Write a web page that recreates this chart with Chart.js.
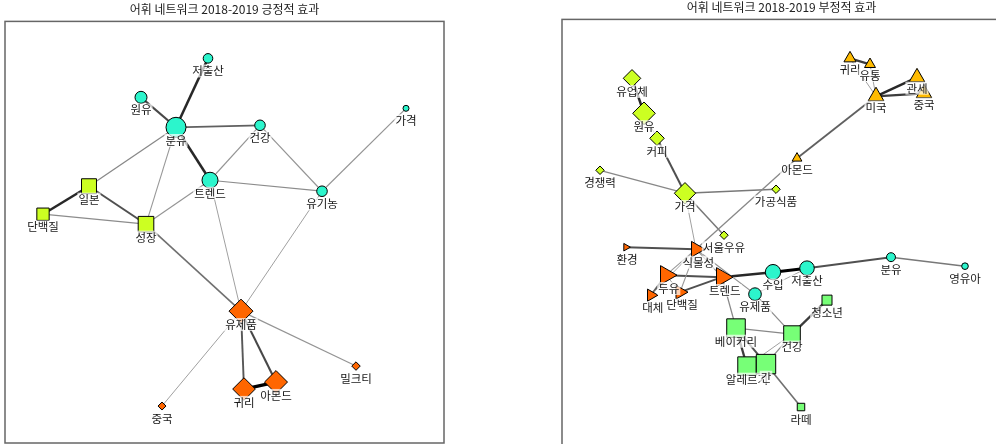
<!DOCTYPE html>
<html lang="ko">
<head>
<meta charset="utf-8">
<script src="https://cdn.jsdelivr.net/npm/chart.js@4/dist/chart.umd.min.js"></script>
<style>
html, body { margin: 0; padding: 0; background: #fff; }
#wrap { position: relative; width: 996px; height: 444px; overflow: hidden; background: #fff; }
#posChart { position: absolute; left: 0; top: 0; }
#negChart { position: absolute; left: 555px; top: 0; }
</style>
</head>
<body>
<div id="wrap">
  <canvas id="posChart" width="450" height="444"></canvas>
  <canvas id="negChart" width="452" height="450"></canvas>
</div>
<script>
// ---- 긍정적 효과: 단어 노드 (레이아웃 좌표, 빈도, 군집) ----
const posTitle = '어휘 네트워크 2018-2019 긍정적 효과';
const posWords   = ['저출산','원유','분유','건강','가격','트렌드','유기농','일본','단백질','성장','유제품','귀리','아몬드','밀크티','중국'];
const posX       = [203, 136, 171, 255, 401, 205, 317,  84,  38, 141, 236, 239, 271, 351, 157];
const posY       = [ 37,  76, 106, 104,  87, 159, 170, 165, 193, 203, 290, 368, 361, 345, 385];
const posFreq    = [ 23,  36, 100,  28,   9,  64,  28,  56,  38,  61, 144, 128, 132,  18,  16];
const posCluster = [  0,   0,   0,   0,   0,   0,   0,   1,   1,   1,   2,   2,   2,   2,   2];

// 긍정적 효과: 공기어 연결 (가중치)
const posEdgeFrom   = ['저출산','원유','분유','분유','분유','분유','건강','건강','트렌드','트렌드','트렌드','유기농','유기농','일본','일본','단백질','성장','유제품','유제품','귀리','유제품','유제품'];
const posEdgeTo     = ['분유','분유','건강','트렌드','일본','성장','트렌드','유기농','유기농','성장','유제품','가격','유제품','단백질','성장','성장','유제품','귀리','아몬드','아몬드','밀크티','중국'];
const posEdgeWeight = [4, 3.2, 2.6, 4, 1.6, 1.2, 1.3, 1.3, 1.5, 1.3, 1, 1.3, 1, 4, 3, 1.5, 2.2, 2.8, 3.2, 5.5, 1.3, 1];

// ---- 부정적 효과: 단어 노드 ----
const negTitle = '어휘 네트워크 2018-2019 부정적 효과';
const negWords   = ['귀리','유통','관세','중국','미국','아몬드','유업체','원유','커피','경쟁력','가격','가공식품','서울우유','식물성','환경','두유','트렌드','단백질','대체','수입','저출산','분유','영유아','유제품','청소년','베이커리','건강','알레르기','간','라떼'];
const negX       = [288, 308, 355, 362, 314, 235,  70,  82,  95,  38, 123, 214, 162, 134,  64, 104, 160, 118,  89, 211, 245, 329, 403, 193, 265, 174, 230, 185, 204, 239];
const negY       = [ 39,  45,  58,  74,  77, 139,  59,  94, 119, 151, 174, 170, 216, 230, 228, 256, 258, 273, 276, 253, 249, 238, 247, 275, 281, 309, 315, 347, 345, 388];
const negFreq    = [ 49,  40,  81,  81,  83,  32,  77, 128,  53,  18, 114,  18,  18,  81,  19, 121, 121,  64,  49,  59,  53,  20,  11,  40,  25,  86,  69,  85,  94,  14];
const negCluster = [  0,   0,   0,   0,   0,   0,   1,   1,   1,   1,   1,   1,   1,   2,   2,   2,   2,   2,   2,   3,   3,   3,   3,   3,   4,   4,   4,   4,   4,   4];

// 부정적 효과: 공기어 연결 (가중치)
const negEdgeFrom   = ['귀리','귀리','유통','관세','중국','미국','아몬드','유업체','원유','커피','경쟁력','가격','가격','가격','환경','식물성','식물성','식물성','식물성','식물성','두유','두유','단백질','대체','트렌드','수입','저출산','분유','저출산','트렌드','유제품','베이커리','베이커리','베이커리','건강','건강','건강','간'];
const negEdgeTo     = ['유통','미국','미국','미국','미국','아몬드','식물성','원유','커피','가격','가격','가공식품','서울우유','식물성','식물성','두유','트렌드','단백질','대체','유제품','트렌드','단백질','트렌드','두유','수입','저출산','분유','영유아','유제품','베이커리','건강','건강','알레르기','간','청소년','간','알레르기','라떼'];
const negEdgeWeight = [3.5, 1, 1, 4, 3.5, 2.6, 1.6, 4, 1, 3, 1.6, 2, 2, 1, 3, 1.2, 1.3, 1.2, 1, 1.4, 3, 1, 3, 2.6, 4, 5, 3, 2, 1, 1.6, 1.5, 1.6, 3.5, 3, 3.5, 1.5, 1, 2.2];

// ---- 군집별 마커 스타일 ----
const posStyles = [
  { color: '#2cf5cc', shape: 'circle',  rotation: 0 },
  { color: '#ccff22', shape: 'rect',    rotation: 0 },
  { color: '#ff6600', shape: 'rectRot', rotation: 0 }
];
const negStyles = [
  { color: '#ffbb00', shape: 'triangle', rotation: 0 },
  { color: '#ccff22', shape: 'rectRot',  rotation: 0 },
  { color: '#ff6600', shape: 'triangle', rotation: 90 },
  { color: '#2cf5cc', shape: 'circle',   rotation: 0 },
  { color: '#77ff77', shape: 'rect',     rotation: 0 }
];

const FONT = "'Noto Sans CJK KR', 'Noto Sans', sans-serif";

// 마커의 눈에 보이는 반 크기 → Chart.js 포인트 반지름
function markerRadius(shape, freq) {
  const half = Math.sqrt(freq);
  return shape === 'rect' ? half / Math.SQRT1_2 : half;
}

function edgeStyle(w) {
  const g = Math.max(0, Math.round(200 - 40 * w));
  return { color: 'rgb(' + g + ',' + g + ',' + g + ')', width: 0.5 + 0.5 * w };
}

function buildNetwork(canvasId, net) {
  const index = {};
  net.words.forEach((w, i) => { index[w] = i; });

  const datasets = [];
  // 노드: 군집마다 하나의 scatter 데이터셋
  net.styles.forEach((st, c) => {
    const ids = net.words.map((_, i) => i).filter(i => net.cluster[i] === c);
    datasets.push({
      label: 'cluster' + c,
      data: ids.map(i => ({ x: net.x[i], y: net.y[i] })),
      pointStyle: st.shape,
      pointRotation: st.rotation,
      pointRadius: ids.map(i => markerRadius(st.shape, net.freq[i])),
      pointBackgroundColor: st.color,
      pointBorderColor: '#000',
      pointBorderWidth: 1,
      showLine: false,
      order: 1
    });
  });
  // 연결선
  net.from.forEach((a, k) => {
    const i = index[a], j = index[net.to[k]];
    const es = edgeStyle(net.weight[k]);
    datasets.push({
      label: 'edge' + k,
      data: [{ x: net.x[i], y: net.y[i] }, { x: net.x[j], y: net.y[j] }],
      showLine: true,
      borderColor: es.color,
      borderWidth: es.width,
      pointRadius: 0,
      fill: false,
      order: 2
    });
  });

  // 테두리와 단어 라벨
  const netPlugin = {
    id: 'netDecor',
    beforeDatasetsDraw(chart) {
      const a = chart.chartArea, ctx = chart.ctx;
      ctx.save();
      ctx.strokeStyle = '#666';
      ctx.lineWidth = 1.5;
      ctx.strokeRect(a.left, a.top, a.right - a.left, a.bottom - a.top);
      ctx.restore();
    },
    afterDatasetsDraw(chart) {
      const ctx = chart.ctx, sx = chart.scales.x, sy = chart.scales.y;
      ctx.save();
      ctx.font = '11.5px ' + FONT;
      ctx.textAlign = 'center';
      ctx.textBaseline = 'middle';
      net.words.forEach((w, i) => {
        const st = net.styles[net.cluster[i]];
        const half = Math.sqrt(net.freq[i]);
        let px = sx.getPixelForValue(net.x[i]);
        let py = sy.getPixelForValue(net.y[i]);
        if (st.shape === 'triangle' && st.rotation === 0) py -= half / 4;
        if (st.shape === 'triangle' && st.rotation === 90) px += half / 4;
        const ly = py + 12 + half * 0.12;
        const tw = ctx.measureText(w).width;
        ctx.fillStyle = 'rgba(255,255,255,0.7)';
        ctx.fillRect(px - tw / 2 - 1, ly - 6.5, tw + 2, 13);
        ctx.fillStyle = '#161616';
        ctx.fillText(w, px, ly);
      });
      ctx.restore();
    }
  };

  return new Chart(document.getElementById(canvasId), {
    type: 'scatter',
    data: { datasets },
    options: {
      responsive: false,
      animation: false,
      events: [],
      layout: { padding: net.padding, autoPadding: false },
      scales: {
        x: { type: 'linear', min: 0, max: net.w, display: false },
        y: { type: 'linear', min: 0, max: net.h, reverse: true, display: false }
      },
      plugins: {
        legend: { display: false },
        tooltip: { enabled: false },
        title: {
          display: true,
          text: net.title,
          color: '#222',
          font: { family: FONT, size: 12, weight: 'normal' },
          padding: net.titlePad
        }
      }
    },
    plugins: [netPlugin]
  });
}

buildNetwork('posChart', {
  title: posTitle, words: posWords, x: posX, y: posY, freq: posFreq, cluster: posCluster,
  from: posEdgeFrom, to: posEdgeTo, weight: posEdgeWeight, styles: posStyles,
  w: 439, h: 422,
  padding: { left: 5, right: 6, top: 0, bottom: 1 },
  titlePad: { top: 2, bottom: 5 }
});

buildNetwork('negChart', {
  title: negTitle, words: negWords, x: negX, y: negY, freq: negFreq, cluster: negCluster,
  from: negEdgeFrom, to: negEdgeTo, weight: negEdgeWeight, styles: negStyles,
  w: 439, h: 427,
  padding: { left: 7, right: 6, top: 0, bottom: 4 },
  titlePad: { top: 0, bottom: 5 }
});
</script>
</body>
</html>
